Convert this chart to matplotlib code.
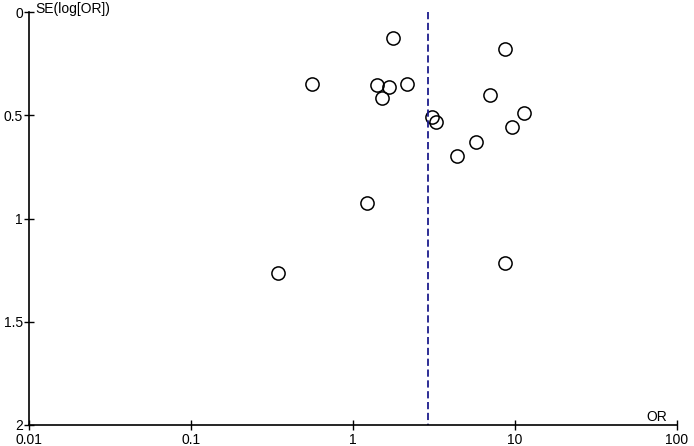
import matplotlib
matplotlib.use("Agg")
import matplotlib.pyplot as plt
from matplotlib.ticker import FixedLocator, FixedFormatter

plt.rcParams["font.family"] = ["Liberation Sans", "DejaVu Sans"]

# study odds ratios and standard errors of log(OR)
odds_ratio = [1.77, 8.67, 0.558, 1.41, 1.67, 1.51, 2.14, 3.09, 3.25,
              6.98, 11.4, 9.58, 5.75, 4.38, 1.215, 0.343, 8.67]
se_log_or = [0.128, 0.18, 0.35, 0.355, 0.362, 0.415, 0.35, 0.507, 0.533,
             0.402, 0.488, 0.555, 0.63, 0.697, 0.923, 1.265, 1.214]
pooled_or = 2.89

x_ticks = [0.01, 0.1, 1, 10, 100]
x_labels = ["0.01", "0.1", "1", "10", "100"]
y_ticks = [0, 0.5, 1, 1.5, 2]
y_labels = ["0", "0.5", "1", "1.5", "2"]

fig = plt.figure(figsize=(6.94, 4.46), dpi=100)
ax = fig.add_axes([0.0418, 0.0471, 0.9337, 0.9259])

ax.plot(odds_ratio, se_log_or, "o", markersize=9.5, markerfacecolor="none",
        markeredgecolor="black", markeredgewidth=1.1, clip_on=False)
ax.plot([pooled_or, pooled_or], [0, 2], color="#1c1c8c", linestyle=(0, (4, 2)),
        linewidth=1.3)

ax.set_xscale("log")
ax.set_xlim(0.01, 100)
ax.set_ylim(2, 0)
ax.xaxis.set_major_locator(FixedLocator(x_ticks))
ax.xaxis.set_major_formatter(FixedFormatter(x_labels))
ax.xaxis.set_minor_locator(FixedLocator([]))
ax.yaxis.set_major_locator(FixedLocator(y_ticks))
ax.yaxis.set_major_formatter(FixedFormatter(y_labels))

for s in ["top", "right"]:
    ax.spines[s].set_visible(False)
for s in ["left", "bottom"]:
    ax.spines[s].set_linewidth(1.2)
ax.tick_params(direction="inout", length=7, width=1.0, labelsize=10,
               pad=1, colors="black")
ax.tick_params(axis="x", pad=2.5)

ax.text(0.009, 1.008, "SE(log[OR])", transform=ax.transAxes, fontsize=10,
        ha="left", va="center")
ax.text(0.985, 0.002, "OR", transform=ax.transAxes, fontsize=10,
        ha="right", va="bottom")

fig.savefig("out.png", dpi=100)
